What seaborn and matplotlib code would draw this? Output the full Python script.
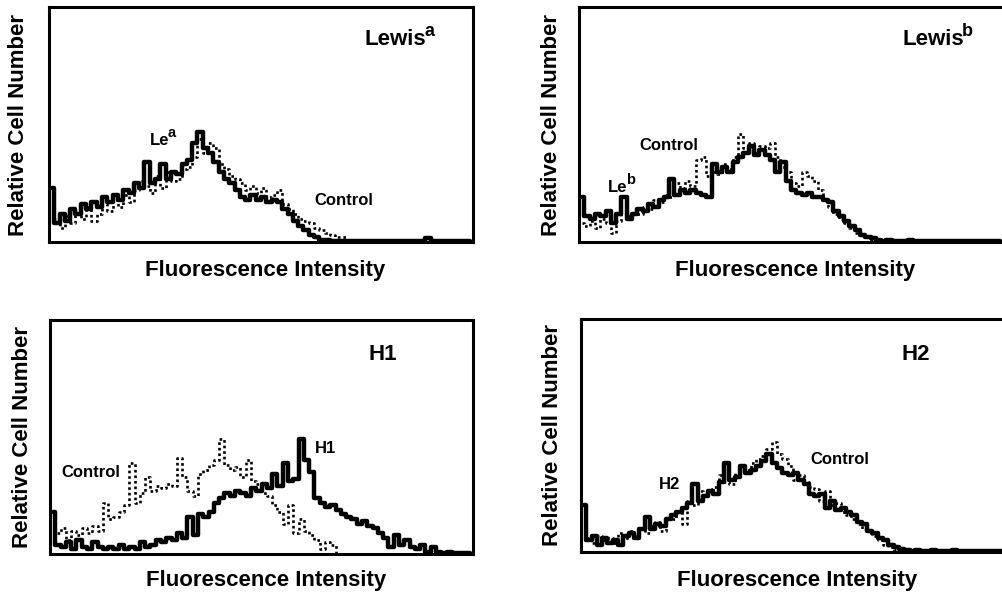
import numpy as np
import pandas as pd
import matplotlib
matplotlib.use("Agg")
import matplotlib.pyplot as plt
import seaborn as sns

# ---------------- data (relative cell number, % of axis height, 80 channels) -------------
channels = np.arange(80)

lea_stain = [23, 8, 12, 9, 14, 12, 16, 14, 17, 15,
             19, 17, 20, 18, 22, 21, 25, 23, 34, 25,
             27, 33, 27, 30, 29, 33, 35, 42, 47, 40,
             38, 34, 30, 27, 25, 22, 19, 18, 20, 18,
             19, 17, 18, 17, 14, 12, 9, 7, 5, 3,
             2, 1, 1, 0.5, 0.5, 0.5, 0.5, 0.5, 0.5, 0.5,
             0.5, 0.5, 0.5, 0.5, 0.5, 0.5, 0.5, 0.5, 0.5, 0.5,
             0.5, 1.5, 0.5, 0.5, 0.5, 0.5, 0.5, 0.5, 0.5, 0.5]
lea_control = [14, 10, 6, 11, 8, 13, 10, 15, 9, 12,
               16, 13, 18, 15, 20, 17, 22, 26, 24, 21,
               28, 23, 30, 26, 27, 31, 32, 36, 44, 38,
               42, 40, 33, 31, 28, 27, 25, 22, 24, 21,
               23, 19, 20, 22, 16, 14, 12, 10, 9, 8,
               6, 5, 4, 3, 2, 2, 1, 1, 0.5, 0,
               0, 0, 0, 0, 0, 0, 0, 0, 0, 0,
               0, 0, 0, 0, 0, 0, 0, 0, 0, 0]

leb_stain = [19, 11, 10, 12, 11, 13, 8, 12, 19, 10,
             12, 14, 13, 16, 15, 18, 19, 27, 20, 22,
             21, 22, 21, 20, 19, 33, 30, 32, 30, 34,
             36, 38, 41, 37, 39, 37, 35, 30, 34, 26,
             22, 21, 20, 21, 19, 19, 18, 17, 13, 11,
             9, 7, 5, 3, 2, 1.5, 1, 0.5, 1, 0.5,
             0.5, 0.5, 1, 0.5, 0.5, 0.5, 0.5, 0.5, 0.5, 0.5,
             0.5, 0.5, 0.5, 0.5, 0.5, 0.5, 0.5, 0.5, 0.5, 0.5]
leb_control = [8, 7, 9, 6, 10, 8, 4, 9, 12, 11,
               13, 12, 15, 14, 18, 17, 20, 19, 25, 23,
               26, 24, 35, 36, 28, 30, 29, 33, 31, 36,
               46, 40, 42, 38, 41, 40, 42, 36, 32, 30,
               25, 24, 30, 28, 26, 22, 18, 15, 12, 10,
               8, 6, 4, 3, 2, 1, 1, 0.5, 0.5, 0,
               0, 0, 0, 0, 0, 0, 0, 0, 0, 0,
               0, 0, 0, 0, 0, 0, 0, 0, 0, 0]

h1_stain = [18, 4, 3, 5, 2, 6, 3, 2, 5, 3,
            2, 3, 2, 4, 2, 3, 2, 5, 3, 4,
            6, 5, 7, 6, 9, 7, 16, 8, 17, 16,
            18, 22, 24, 26, 25, 27, 26, 25, 28, 27,
            30, 28, 34, 29, 39, 31, 32, 49, 40, 35,
            24, 22, 20, 21, 19, 17, 16, 15, 13, 14,
            12, 11, 9, 7, 3, 8, 4, 6, 3, 2,
            4, 1, 3, 1, 0.5, 1, 0.5, 0.5, 0.5, 0.5]
h1_control = [12, 9, 11, 6, 10, 8, 11, 9, 12, 10,
              22, 15, 16, 18, 21, 39, 22, 26, 33, 27,
              29, 28, 30, 29, 41, 33, 27, 25, 34, 36,
              38, 40, 49, 38, 36, 37, 33, 40, 31, 30,
              26, 25, 21, 18, 13, 21, 9, 15, 10, 8,
              6, 2, 5, 4, 0, 0, 0, 0, 0, 0,
              0, 0, 0, 0, 0, 0, 0, 0, 0, 0,
              0, 0, 0, 0, 0, 0, 0, 0, 0, 0]

h2_stain = [20, 5, 7, 3, 6, 4, 5, 3, 7, 8,
            6, 10, 15, 10, 12, 11, 14, 16, 17, 19,
            21, 29, 22, 24, 26, 25, 30, 38, 31, 32,
            37, 34, 35, 37, 39, 42, 38, 36, 34, 33,
            34, 31, 29, 25, 24, 25, 19, 22, 18, 19,
            17, 16, 13, 12, 9, 8, 6, 5, 3, 2,
            1.5, 1, 0.5, 1, 0.5, 0.5, 1, 0.5, 0.5, 0.5,
            1, 0.5, 0.5, 0.5, 0.5, 0.5, 0.5, 0.5, 0.5, 0.5]
h2_control = [10, 6, 4, 7, 5, 6, 4, 8, 6, 9,
              7, 10, 8, 11, 13, 9, 15, 14, 17, 12,
              22, 20, 26, 24, 27, 28, 33, 30, 29, 34,
              36, 35, 38, 40, 41, 44, 47, 42, 40, 37,
              31, 33, 30, 28, 27, 22, 26, 20, 21, 17,
              16, 14, 12, 10, 9, 7, 5, 3, 2, 1,
              1, 0.5, 0, 0, 0, 0, 0, 0, 0, 0,
              0, 0, 0, 0, 0, 0, 0, 0, 0, 0]

panel_titles = [("Lewis", "a"), ("Lewis", "b"), ("H1", ""), ("H2", "")]
stain_labels = [("Le", "a"), ("Le", "b"), ("H1", ""), ("H2", "")]
y_label = "Relative Cell Number"
x_label = "Fluorescence Intensity"

# ---------------- figure --------------------------------------------------------------
sns.set_style("white")
plt.rcParams["font.family"] = ["Liberation Sans", "DejaVu Sans"]

W, H = 1003, 592
fig = plt.figure(figsize=(W / 100, H / 100), dpi=100)


def px_axes(l, t, r, b):
    return fig.add_axes([l / W, 1 - b / H, (r - l) / W, (b - t) / H])


def sup_text(ax, x, y, base, sup, size, supsize, raise_px):
    t = ax.text(x, y, base, transform=ax.transAxes, fontsize=size,
                fontweight="bold", ha="left", va="baseline", color="black")
    if sup:
        ax.annotate(sup, xy=(1, 0), xycoords=t, xytext=(-1.2, raise_px * 0.72),
                    textcoords="offset points", fontsize=supsize,
                    fontweight="bold", ha="left", va="baseline", color="black")


panels = [
    dict(box=(49, 7, 473, 242), stain=lea_stain, ctrl=lea_control,
         title_xy=(0.745, 0.838), lab_xy=(0.238, 0.413), ctrl_xy=(0.627, 0.157),
         ylab_x=-0.073, xlab_y=-0.077, right=True),
    dict(box=(579, 7, 1003, 242), stain=leb_stain, ctrl=leb_control,
         title_xy=(0.762, 0.838), lab_xy=(0.068, 0.213), ctrl_xy=(0.1415, 0.391),
         ylab_x=-0.064, xlab_y=-0.077, right=False),
    dict(box=(50, 320, 473, 554), stain=h1_stain, ctrl=h1_control,
         title_xy=(0.752, 0.829), lab_xy=(0.626, 0.432), ctrl_xy=(0.028, 0.329),
         ylab_x=-0.066, xlab_y=-0.068, right=True),
    dict(box=(581, 319, 1005, 552), stain=h2_stain, ctrl=h2_control,
         title_xy=(0.757, 0.824), lab_xy=(0.184, 0.27), ctrl_xy=(0.540, 0.378),
         ylab_x=-0.068, xlab_y=-0.077, right=False),
]

for i, p in enumerate(panels):
    ax = px_axes(*p["box"])
    df = pd.DataFrame({"channel": channels, "stain": p["stain"], "control": p["ctrl"]})
    sns.lineplot(data=df, x="channel", y="control", ax=ax, color="black",
                 linewidth=1.9, linestyle=(0, (1, 1.1)), drawstyle="steps-mid",
                 estimator=None, legend=False)
    sns.lineplot(data=df, x="channel", y="stain", ax=ax, color="black",
                 linewidth=3.2, drawstyle="steps-mid", estimator=None, legend=False)
    ax.set_xlim(-0.5, 79.5)
    ax.set_ylim(0, 100)
    ax.set_xticks([])
    ax.set_yticks([])
    for side, sp in ax.spines.items():
        sp.set_color("black")
        sp.set_linewidth(2.2)
        sp.set_visible(True)
    if not p["right"]:
        ax.spines["right"].set_visible(False)

    ax.set_ylabel(y_label, fontsize=16, fontweight="bold", color="black")
    ax.yaxis.set_label_coords(p["ylab_x"], 0.5)
    ax.yaxis.label.set_verticalalignment("center")
    ax.set_xlabel(x_label, fontsize=16, fontweight="bold", color="black")
    ax.xaxis.set_label_coords(0.51, p["xlab_y"])

    tb, ts = panel_titles[i]
    sup_text(ax, *p["title_xy"], tb, ts, 16, 13, 14.5)
    lb, ls_ = stain_labels[i]
    sup_text(ax, *p["lab_xy"], lb, ls_, 12, 10.5, 10.5)
    ax.text(*p["ctrl_xy"], "Control", transform=ax.transAxes, fontsize=12,
            fontweight="bold", ha="left", va="baseline", color="black")

fig.savefig("out.png", dpi=100, facecolor="white")
